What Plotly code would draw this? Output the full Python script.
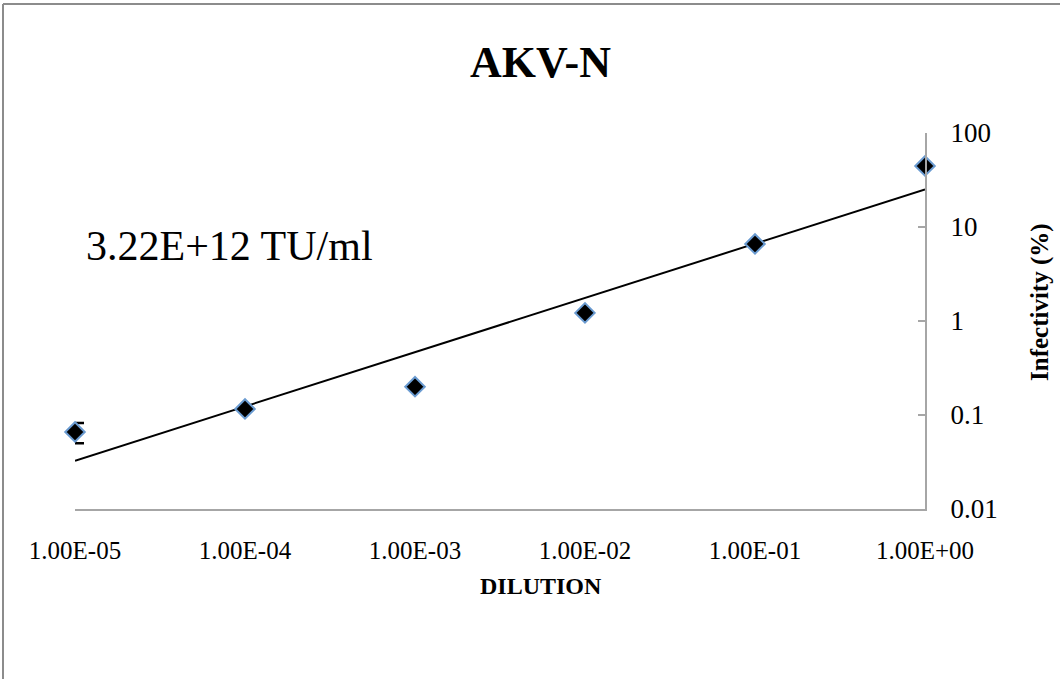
import numpy as np
import plotly.graph_objects as go

# Dilution series and measured infectivity (%)
dilution = [1e-5, 1e-4, 1e-3, 1e-2, 1e-1, 1e0]
infectivity = [0.066, 0.116, 0.20, 1.22, 6.6, 44.6]
infectivity_err = [0.016, 0.0, 0.0, 0.0, 0.0, 0.0]

x_tick_vals = [1e-5, 1e-4, 1e-3, 1e-2, 1e-1, 1e0]
x_tick_text = ["1.00E-05", "1.00E-04", "1.00E-03", "1.00E-02", "1.00E-01", "1.00E+00"]
y_tick_vals = [0.01, 0.1, 1, 10, 100]
y_tick_text = ["0.01", "0.1", "1", "10", "100"]

chart_title = "AKV-N"
titer_label = "3.22E+12 TU/ml"
x_title = "DILUTION"
y_title = "Infectivity (%)"

# Page / plot-area geometry in pixels
W, H = 1060, 679
L, R, T, B = 75, 925, 133, 509


def px_x(px):
    return (px - L) / (R - L)


def px_y(py):
    return (B - py) / (B - T)


# Power trendline (straight line in log-log space)
lx = np.log10(dilution)
ly = np.log10(infectivity)
slope, intercept = np.polyfit(lx, ly, 1)
fit_x = np.array([dilution[0], dilution[-1]])
fit_y = 10 ** (intercept + slope * np.log10(fit_x))

serif = "Liberation Serif, Times New Roman, serif"

fig = go.Figure()

fig.add_trace(go.Scatter(
    x=fit_x, y=fit_y, mode="lines",
    line=dict(color="black", width=2),
    hoverinfo="skip", showlegend=False, cliponaxis=False,
))

fig.add_trace(go.Scatter(
    x=dilution, y=infectivity, mode="markers",
    marker=dict(symbol="diamond", size=15, color="black",
                line=dict(color="#6A9BD1", width=2)),
    error_y=dict(type="data", array=infectivity_err, visible=True,
                 color="black", thickness=2.5, width=9),
    showlegend=False, cliponaxis=False,
))

fig.update_layout(
    width=W, height=H,
    margin=dict(l=L, r=W - R, t=T, b=H - B, pad=0),
    paper_bgcolor="white", plot_bgcolor="white",
    font=dict(family=serif, color="black"),
    xaxis=dict(
        type="log", range=[-5, 0],
        tickvals=x_tick_vals, ticktext=x_tick_text,
        tickfont=dict(family=serif, size=25, color="black"),
        ticks="", ticklabelstandoff=18,
        showline=True, linecolor="#A6A6A6", linewidth=2,
        showgrid=False, zeroline=False,
    ),
    yaxis=dict(
        type="log", range=[-2, 2], side="right",
        tickvals=y_tick_vals, ticktext=y_tick_text,
        tickfont=dict(family=serif, size=27, color="black"),
        ticks="inside", ticklen=7, tickwidth=2, tickcolor="#A6A6A6",
        ticklabelstandoff=18,
        showline=True, linecolor="#A6A6A6", linewidth=2,
        showgrid=False, zeroline=False,
    ),
    shapes=[
        # chart frame (top and left edges visible on the page)
        dict(type="line", xref="paper", yref="paper",
             x0=px_x(3), x1=px_x(1070), y0=px_y(4), y1=px_y(4),
             line=dict(color="#8C8C8C", width=2)),
        dict(type="line", xref="paper", yref="paper",
             x0=px_x(3), x1=px_x(3), y0=px_y(4), y1=px_y(690),
             line=dict(color="#8C8C8C", width=2)),
    ],
    annotations=[
        dict(text=f"<b>{chart_title}</b>", xref="paper", yref="paper",
             x=px_x(540), y=px_y(62), showarrow=False,
             xanchor="center", yanchor="middle",
             font=dict(family=serif, size=44, color="black")),
        dict(text=titer_label, xref="paper", yref="paper",
             x=px_x(84), y=px_y(246), showarrow=False,
             xanchor="left", yanchor="middle",
             font=dict(family=serif, size=42, color="black")),
        dict(text=f"<b>{x_title}</b>", xref="paper", yref="paper",
             x=px_x(541), y=px_y(586), showarrow=False,
             xanchor="center", yanchor="middle",
             font=dict(family=serif, size=24, color="black")),
        dict(text=f"<b>{y_title}</b>", xref="paper", yref="paper",
             x=px_x(1040), y=px_y(302), showarrow=False,
             xanchor="center", yanchor="middle", textangle=-90,
             font=dict(family=serif, size=25, color="black")),
    ],
)

fig.write_html("out.html")
